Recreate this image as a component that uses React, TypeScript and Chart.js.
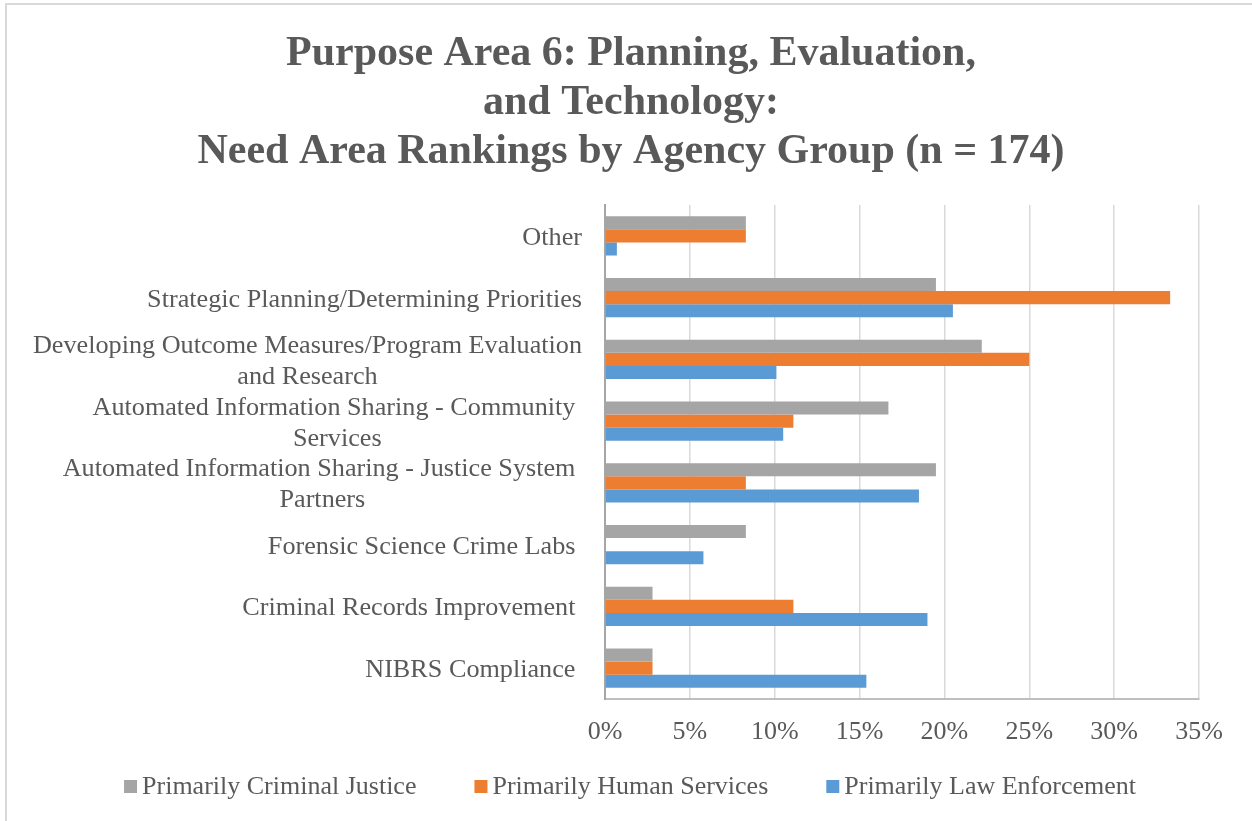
import React, { useEffect, useRef } from "react";
import { Chart, registerables } from "chart.js";

Chart.register(...registerables);

const titleLines = [
  "Purpose Area 6: Planning, Evaluation,",
  "and Technology:",
  "Need Area Rankings by Agency Group (n = 174)",
];

const categories: string[][] = [
  ["Other"],
  ["Strategic Planning/Determining Priorities"],
  ["Developing Outcome Measures/Program Evaluation", "and Research"],
  ["Automated Information Sharing - Community ", "Services"],
  ["Automated Information Sharing - Justice System ", "Partners"],
  ["Forensic Science Crime Labs "],
  ["Criminal Records Improvement "],
  ["NIBRS Compliance "],
];

const seriesNames = [
  "Primarily Criminal Justice",
  "Primarily Human Services",
  "Primarily Law Enforcement",
];
const seriesColors = ["#a5a5a5", "#ed7d31", "#5b9bd5"];

const criminalJustice = [8.3, 19.5, 22.2, 16.7, 19.5, 8.3, 2.8, 2.8];
const humanServices = [8.3, 33.3, 25.0, 11.1, 8.3, 0, 11.1, 2.8];
const lawEnforcement = [0.7, 20.5, 10.1, 10.5, 18.5, 5.8, 19.0, 15.4];

const xMin = 0;
const xMax = 35;
const xStep = 5;

const FONT = '"Liberation Serif", "Times New Roman", serif';
const TEXT = "#595959";

const customText = {
  id: "customText",
  afterDraw(chart: any) {
    const ctx = chart.ctx as CanvasRenderingContext2D;
    ctx.save();
    // Title
    ctx.fillStyle = TEXT;
    ctx.font = `bold 42px ${FONT}`;
    ctx.textAlign = "center";
    ctx.textBaseline = "alphabetic";
    titleLines.forEach((t, i) => ctx.fillText(t, 631, 65 + i * 49));

    // Category labels
    const yScale = chart.scales.y;
    ctx.font = `26.2px ${FONT}`;
    ctx.textBaseline = "middle";
    const labels = chart.data.labels as string[][];
    labels.forEach((lines, i) => {
      const yc = yScale.getPixelForTick(i) + 2;
      const maxW = Math.max(...lines.map((l) => ctx.measureText(l).width));
      const cx = 582 - maxW / 2;
      lines.forEach((l, j) => {
        ctx.fillText(l, cx, yc + (j - (lines.length - 1) / 2) * 31);
      });
    });

    // Legend
    ctx.font = `26px ${FONT}`;
    const ds = chart.data.datasets;
    const box = 13;
    const gapBoxText = 5;
    const gapItems = 58;
    const widths = ds.map((d: any) => box + gapBoxText + ctx.measureText(d.label).width);
    const total = widths.reduce((a: number, b: number) => a + b, 0) + gapItems * (ds.length - 1);
    let x = 630 - total / 2;
    ctx.textAlign = "left";
    ds.forEach((d: any, i: number) => {
      ctx.fillStyle = d.backgroundColor;
      ctx.fillRect(x, 780, box, box);
      ctx.fillStyle = TEXT;
      ctx.fillText(d.label, x + box + gapBoxText, 787);
      x += widths[i] + gapItems;
    });
    ctx.restore();
  },
};

export default function App() {
  const ref = useRef<HTMLCanvasElement>(null);
  useEffect(() => {
    document.body.style.margin = "0";
    const values = [criminalJustice, humanServices, lawEnforcement];
    const chart = new Chart(ref.current as HTMLCanvasElement, {
      type: "bar",
      data: {
        labels: categories as any,
        datasets: seriesNames.map((name, i) => ({
          label: name,
          data: values[i],
          backgroundColor: seriesColors[i],
          borderWidth: 0,
          categoryPercentage: 0.636,
          barPercentage: 1,
        })),
      },
      options: {
        indexAxis: "y",
        animation: false,
        responsive: false,
        layout: { padding: { left: 0, top: 205, right: 53, bottom: 62 } },
        plugins: {
          legend: { display: false },
          title: { display: false },
          tooltip: { enabled: false },
        },
        scales: {
          x: {
            min: xMin,
            max: xMax,
            ticks: {
              stepSize: xStep,
              padding: 18,
              color: TEXT,
              font: { family: FONT, size: 26 },
              callback: (v: any) => `${v}%`,
            },
            grid: { color: "#d9d9d9", lineWidth: 1.5, drawTicks: false },
            border: { display: true, color: "#bfbfbf", width: 2 },
            afterFit: (s: any) => {
              s.height = 60;
            },
          },
          y: {
            ticks: { display: false },
            grid: { display: false, drawTicks: false },
            border: { display: true, color: "#a6a6a6", width: 2 },
            afterFit: (s: any) => {
              s.width = 605;
            },
          },
        },
      },
      plugins: [customText],
    });
    return () => chart.destroy();
  }, []);
  return (
    <div style={{ position: "relative", width: 1252, height: 821, overflow: "hidden", background: "#fff" }}>
      <div
        style={{
          position: "absolute",
          left: 5,
          top: 3,
          width: 1400,
          height: 1000,
          border: "2px solid #d9d9d9",
        }}
      />
      <canvas ref={ref} width={1252} height={821} style={{ position: "absolute", left: 0, top: 0 }} />
    </div>
  );
}
